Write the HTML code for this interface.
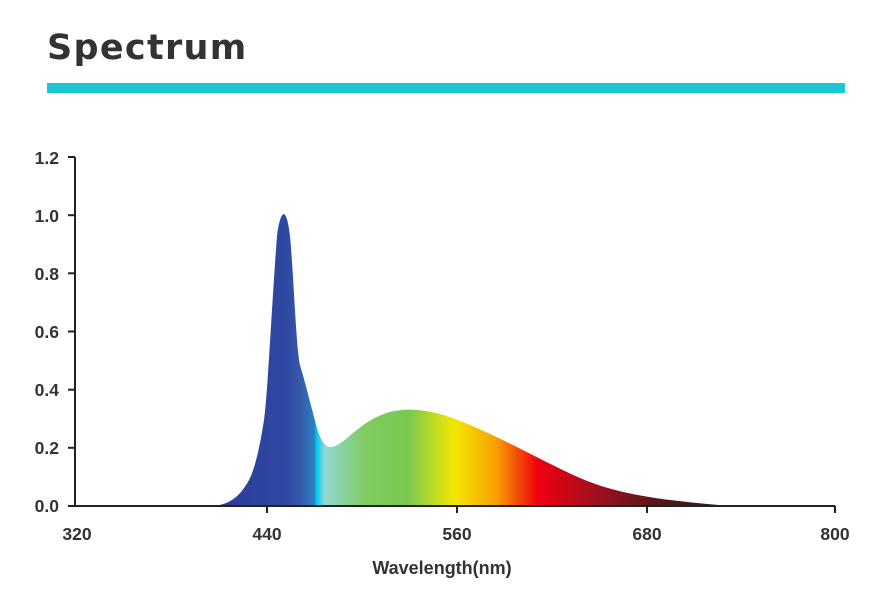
<!DOCTYPE html>
<html><head><style>
body{margin:0;background:#fff;width:881px;height:604px;overflow:hidden;font-family:"Liberation Sans",sans-serif}
</style></head><body>
<svg width="881" height="604" xmlns="http://www.w3.org/2000/svg">
<text x="47" y="59" font-family="DejaVu Sans, Liberation Sans, sans-serif" font-weight="bold" font-size="35" fill="#333" letter-spacing="1.3">Spectrum</text>
<rect x="47" y="83" width="798" height="10" fill="#1dc8d4"/>
<defs><linearGradient id="g" gradientUnits="userSpaceOnUse" x1="210" y1="0" x2="730" y2="0">
<stop offset="0" stop-color="#2a3a98"/>
<stop offset="0.15" stop-color="#2f4aa3"/>
<stop offset="0.17" stop-color="#3556a8"/>
<stop offset="0.2" stop-color="#2c7ec0"/>
<stop offset="0.205" stop-color="#00c8f0"/>
<stop offset="0.22" stop-color="#8fd8d2"/>
<stop offset="0.3" stop-color="#80cc60"/>
<stop offset="0.38" stop-color="#78c850"/>
<stop offset="0.47" stop-color="#f2e800"/>
<stop offset="0.55" stop-color="#f8a000"/>
<stop offset="0.63" stop-color="#f00010"/>
<stop offset="0.75" stop-color="#9a1020"/>
<stop offset="0.88" stop-color="#4a1a1a"/>
<stop offset="1" stop-color="#2a1a1a"/>
</linearGradient></defs>
<path fill="url(#g)" d="M212,506 C228,505 240,498 250,478 C256,465 260,445 264,420 C268,390 272,300 277,236 C280,212 286,202 290,236 C294,280 296,345 300,365 C306,385 312,410 318,432 C322,442 326,448 332,447 C345,445 360,420 390,412 C415,406 440,412 470,425 C510,442 540,460 580,478 C620,495 660,500 730,506 Z"/>
<g stroke="#222" stroke-width="2" fill="none">
<line x1="75" y1="157" x2="75" y2="506"/><line x1="74" y1="506" x2="835" y2="506"/>
<line x1="68" y1="157" x2="75" y2="157"/><line x1="68" y1="215.2" x2="75" y2="215.2"/><line x1="68" y1="273.3" x2="75" y2="273.3"/><line x1="68" y1="331.5" x2="75" y2="331.5"/><line x1="68" y1="389.7" x2="75" y2="389.7"/><line x1="68" y1="447.8" x2="75" y2="447.8"/><line x1="68" y1="506" x2="75" y2="506"/>
<line x1="267" y1="506" x2="267" y2="513"/><line x1="457" y1="506" x2="457" y2="513"/><line x1="647" y1="506" x2="647" y2="513"/><line x1="835" y1="506" x2="835" y2="513"/>
</g>
<g font-size="17.5" font-weight="bold" fill="#333" text-anchor="end">
<text x="59" y="164">1.2</text><text x="59" y="222">1.0</text><text x="59" y="280">0.8</text><text x="59" y="338">0.6</text><text x="59" y="396">0.4</text><text x="59" y="454">0.2</text><text x="59" y="512">0.0</text>
</g>
<g font-size="17.5" font-weight="bold" fill="#333" text-anchor="middle">
<text x="77" y="540">320</text><text x="267" y="540">440</text><text x="457" y="540">560</text><text x="647" y="540">680</text><text x="835" y="540">800</text>
<text x="442" y="574" font-size="18">Wavelength(nm)</text>
</g>
</svg>
</body></html>
